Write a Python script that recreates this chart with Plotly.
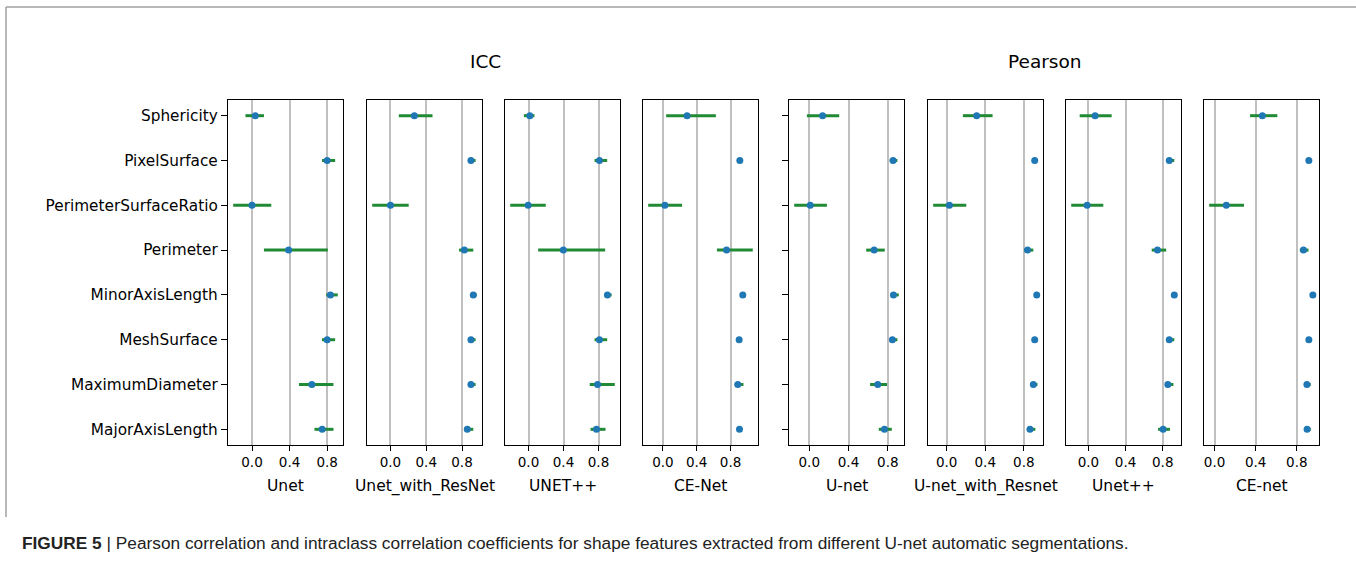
import plotly.graph_objects as go

W, H = 1356, 562

features = ["Sphericity", "PixelSurface", "PerimeterSurfaceRatio", "Perimeter",
            "MinorAxisLength", "MeshSurface", "MaximumDiameter", "MajorAxisLength"]

models = ["Unet", "Unet_with_ResNet", "UNET++", "CE-Net",
          "U-net", "U-net_with_Resnet", "Unet++", "CE-net"]
groups = ["ICC", "ICC", "ICC", "ICC", "Pearson", "Pearson", "Pearson", "Pearson"]

x_ticks = [0.0, 0.4, 0.8]
x_tick_labels = ["0.0", "0.4", "0.8"]

# ICC
icc_unet_val = [0.035, 0.80, 0.0, 0.39, 0.835, 0.80, 0.637, 0.747]
icc_unet_lo = [-0.07, 0.745, -0.20, 0.127, 0.79, 0.745, 0.50, 0.665]
icc_unet_hi = [0.127, 0.885, 0.205, 0.807, 0.913, 0.885, 0.867, 0.867]

icc_resnet_val = [0.267, 0.90, 0.0, 0.826, 0.926, 0.90, 0.90, 0.859]
icc_resnet_lo = [0.093, 0.88, -0.204, 0.767, 0.915, 0.88, 0.88, 0.826]
icc_resnet_hi = [0.47, 0.952, 0.204, 0.926, 0.965, 0.952, 0.952, 0.926]

icc_unetpp_val = [0.015, 0.811, -0.004, 0.398, 0.902, 0.811, 0.789, 0.777]
icc_unetpp_lo = [-0.053, 0.755, -0.209, 0.11, 0.875, 0.755, 0.70, 0.709]
icc_unetpp_hi = [0.068, 0.899, 0.197, 0.876, 0.95, 0.899, 0.986, 0.88]

icc_cenet_val = [0.286, 0.91, 0.024, 0.753, 0.945, 0.902, 0.886, 0.906]
icc_cenet_lo = [0.039, 0.895, -0.173, 0.639, 0.935, 0.89, 0.851, 0.895]
icc_cenet_hi = [0.627, 0.925, 0.227, 1.063, 0.955, 0.915, 0.953, 0.918]

# Pearson
pr_unet_val = [0.136, 0.854, 0.01, 0.661, 0.858, 0.847, 0.698, 0.766]
pr_unet_lo = [-0.024, 0.82, -0.153, 0.58, 0.827, 0.82, 0.62, 0.708]
pr_unet_hi = [0.305, 0.898, 0.18, 0.769, 0.912, 0.898, 0.793, 0.841]

pr_resnet_val = [0.311, 0.913, 0.028, 0.839, 0.934, 0.913, 0.899, 0.864]
pr_resnet_lo = [0.168, 0.90, -0.14, 0.804, 0.925, 0.90, 0.875, 0.836]
pr_resnet_hi = [0.476, 0.925, 0.203, 0.899, 0.945, 0.925, 0.942, 0.92]

pr_unetpp_val = [0.072, 0.87, -0.014, 0.743, 0.924, 0.87, 0.855, 0.804]
pr_unetpp_lo = [-0.094, 0.84, -0.185, 0.681, 0.915, 0.84, 0.83, 0.75]
pr_unetpp_hi = [0.25, 0.924, 0.16, 0.837, 0.94, 0.924, 0.915, 0.877]

pr_cenet_val = [0.465, 0.917, 0.114, 0.865, 0.956, 0.917, 0.898, 0.90]
pr_cenet_lo = [0.345, 0.905, -0.052, 0.829, 0.945, 0.905, 0.875, 0.88]
pr_cenet_hi = [0.611, 0.93, 0.286, 0.914, 0.965, 0.93, 0.935, 0.935]

panels = [
    (icc_unet_val, icc_unet_lo, icc_unet_hi),
    (icc_resnet_val, icc_resnet_lo, icc_resnet_hi),
    (icc_unetpp_val, icc_unetpp_lo, icc_unetpp_hi),
    (icc_cenet_val, icc_cenet_lo, icc_cenet_hi),
    (pr_unet_val, pr_unet_lo, pr_unet_hi),
    (pr_resnet_val, pr_resnet_lo, pr_resnet_hi),
    (pr_unetpp_val, pr_unetpp_lo, pr_unetpp_hi),
    (pr_cenet_val, pr_cenet_lo, pr_cenet_hi),
]

# layout (pixels)
panel_left = [228, 367, 505, 643, 789, 928, 1066, 1204]
panel_w = 115
top_px, bot_px = 100, 445

FONT = "DejaVu Sans"
fig = go.Figure()
layout = dict(
    width=W, height=H,
    margin=dict(l=0, r=0, t=0, b=0),
    paper_bgcolor="white", plot_bgcolor="white",
    showlegend=False,
    font=dict(family=FONT, color="black"),
)

annotations = []
for i, ((val, lo, hi), name) in enumerate(zip(panels, models)):
    n = i + 1
    xa = "x" if n == 1 else f"x{n}"
    ya = "y" if n == 1 else f"y{n}"
    plus = [h - v for h, v in zip(hi, val)]
    minus = [v - l for v, l in zip(val, lo)]
    fig.add_trace(go.Scatter(
        x=val, y=features, mode="markers",
        marker=dict(color="#1f77b4", size=7),
        error_x=dict(type="data", array=plus, arrayminus=minus,
                     color="#218a35", thickness=3, width=0),
        xaxis=xa, yaxis=ya, hoverinfo="x+y",
    ))
    lo_all, hi_all = min(lo), max(hi)
    pad = 0.05 * (hi_all - lo_all)
    x0 = panel_left[i] / W
    x1 = (panel_left[i] + panel_w) / W
    layout["xaxis" if n == 1 else f"xaxis{n}"] = dict(
        domain=[x0, x1], anchor=ya, range=[lo_all - pad, hi_all + pad],
        tickvals=x_ticks, ticktext=x_tick_labels,
        showgrid=True, gridcolor="#c0c0c0", gridwidth=1.6,
        showline=True, mirror=True, linecolor="black", linewidth=1.3,
        ticks="outside", ticklen=5, tickwidth=1.2, tickcolor="black",
        tickfont=dict(size=13.5, family=FONT), zeroline=False, fixedrange=True,
    )
    layout["yaxis" if n == 1 else f"yaxis{n}"] = dict(
        domain=[1 - bot_px / H, 1 - top_px / H], anchor=xa,
        type="category", categoryarray=features, range=[7.35, -0.35],
        showgrid=False, zeroline=False,
        showline=True, mirror=True, linecolor="black", linewidth=1.3,
        ticks="outside" if n in (1, 5) else "", ticklen=6, tickwidth=1.2,
        tickcolor="black",
        showticklabels=(n == 1), tickfont=dict(size=15.3, family=FONT),
        fixedrange=True,
    )
    annotations.append(dict(
        text=name, x=(panel_left[i] + panel_w / 2) / W, y=1 - 486 / H,
        xref="paper", yref="paper", showarrow=False,
        xanchor="center", yanchor="middle",
        font=dict(size=15.5, family=FONT),
    ))

annotations.append(dict(text="ICC", x=485 / W, y=1 - 62 / H, xref="paper", yref="paper",
                        showarrow=False, xanchor="center", yanchor="middle",
                        font=dict(size=18.5, family=FONT)))
annotations.append(dict(text="Pearson", x=1045 / W, y=1 - 62 / H, xref="paper", yref="paper",
                        showarrow=False, xanchor="center", yanchor="middle",
                        font=dict(size=18.5, family=FONT)))
annotations.append(dict(
    text="<b>FIGURE 5</b> | Pearson correlation and intraclass correlation coefficients for shape features extracted from different U-net automatic segmentations.",
    x=20 / W, y=1 - 543 / H, xref="paper", yref="paper", showarrow=False,
    xanchor="left", yanchor="middle",
    font=dict(size=17.3, family="Liberation Sans", color="#222222"),
))
layout["annotations"] = annotations

layout["shapes"] = [
    dict(type="line", xref="paper", yref="paper", x0=6 / W, x1=1.0,
         y0=1 - 7 / H, y1=1 - 7 / H, line=dict(color="#a0a0a0", width=1.5)),
    dict(type="line", xref="paper", yref="paper", x0=6 / W, x1=6 / W,
         y0=1 - 7 / H, y1=1 - 517 / H, line=dict(color="#a0a0a0", width=1.5)),
]

fig.update_layout(**layout)
fig.write_html("out.html", config={"displayModeBar": False},
               post_script="document.body.style.margin='0px';document.body.style.padding='0px';")
